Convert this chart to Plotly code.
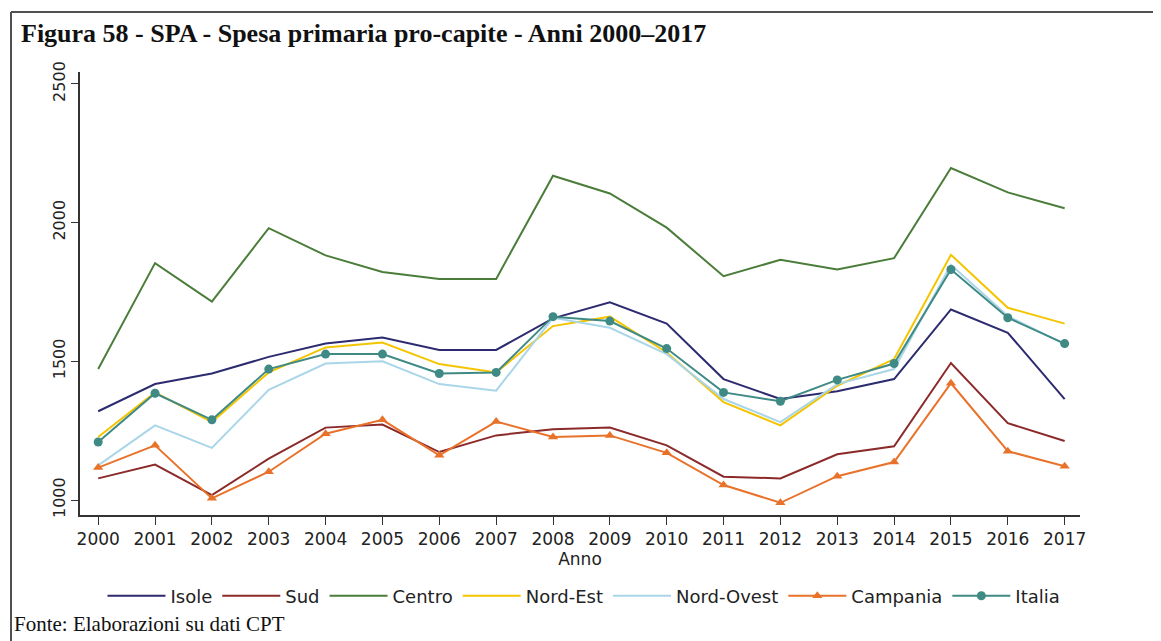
import plotly.graph_objects as go

# dati (spesa primaria pro-capite, euro)
anni = list(range(2000, 2018))

isole = [1320, 1418, 1456, 1516, 1564, 1586, 1541, 1541, 1655, 1713,
         1636, 1436, 1364, 1392, 1436, 1687, 1603, 1364]
sud = [1078, 1128, 1018, 1149, 1261, 1272, 1173, 1233, 1255, 1261,
       1197, 1084, 1078, 1165, 1194, 1494, 1277, 1213]
centro = [1472, 1854, 1715, 1980, 1882, 1822, 1797, 1797, 2169, 2105,
          1982, 1807, 1866, 1831, 1872, 2197, 2109, 2052]
nord_est = [1227, 1388, 1281, 1460, 1550, 1568, 1490, 1460, 1627, 1661,
            1532, 1353, 1269, 1412, 1508, 1884, 1693, 1636]
nord_ovest = [1125, 1269, 1188, 1397, 1492, 1500, 1418, 1394, 1657, 1621,
              1526, 1364, 1281, 1418, 1472, 1848, 1663, 1562]
campania = [1117, 1197, 1006, 1102, 1239, 1289, 1161, 1283, 1227, 1233,
            1170, 1054, 990, 1086, 1137, 1421, 1176, 1122]
italia = [1209, 1385, 1289, 1472, 1526, 1526, 1456, 1460, 1661, 1645,
          1546, 1388, 1356, 1433, 1492, 1831, 1657, 1564]

serie = [
    ("Isole", isole, "#2d2b70", None),
    ("Sud", sud, "#8c2a2a", None),
    ("Centro", centro, "#4b7d3a", None),
    ("Nord-Est", nord_est, "#f5c400", None),
    ("Nord-Ovest", nord_ovest, "#a9d6e8", None),
    ("Campania", campania, "#e8722a", "triangle-up"),
    ("Italia", italia, "#3f8a84", "circle"),
]

fig = go.Figure()
for nome, valori, colore, simbolo in serie:
    if simbolo:
        fig.add_trace(go.Scatter(x=anni, y=valori, name=nome, mode="lines+markers",
                                 line=dict(color=colore, width=2),
                                 marker=dict(symbol=simbolo, size=9, color=colore)))
    else:
        fig.add_trace(go.Scatter(x=anni, y=valori, name=nome, mode="lines",
                                 line=dict(color=colore, width=2)))

# cornice esterna (alto e sinistra)
fig.add_shape(type="line", xref="paper", yref="paper", x0=-0.069, x1=1.09, y0=1.1354, y1=1.1354,
              line=dict(color="#505050", width=2))
fig.add_shape(type="line", xref="paper", yref="paper", x0=-0.069, x1=-0.069, y0=1.1354, y1=-0.30,
              line=dict(color="#505050", width=2))

fig.add_annotation(text="<b>Figura 58 - SPA - Spesa primaria pro-capite - Anni 2000–2017</b>",
                   xref="paper", yref="paper", x=-0.061, y=1.087, xanchor="left", yanchor="middle",
                   showarrow=False, font=dict(family="Liberation Serif", size=26, color="#111"))
fig.add_annotation(text="Fonte: Elaborazioni su dati CPT",
                   xref="paper", yref="paper", x=-0.068, y=-0.246, xanchor="left", yanchor="middle",
                   showarrow=False, font=dict(family="Liberation Serif", size=21, color="#111"))

# la pagina aggiunge 8px di margine al body: margini ridotti di 8
fig.update_layout(
    width=1161, height=641,
    margin=dict(l=72, r=89, t=64, b=134, autoexpand=False),
    paper_bgcolor="white", plot_bgcolor="white",
    font=dict(family="DejaVu Sans", size=16, color="#222"),
    showlegend=True,
    legend=dict(orientation="h", x=0.504, xanchor="center", y=-0.183, yanchor="middle",
                itemwidth=58, font=dict(size=18), bgcolor="rgba(0,0,0,0)",
                traceorder="normal", itemclick=False),
)
fig.update_xaxes(range=[1999.68, 2017.27], tickvals=anni, ticks="outside", ticklen=8,
                 tickcolor="#333", showline=True, linecolor="#333", linewidth=1.5,
                 showgrid=False, zeroline=False, automargin=False,
                 title=dict(text="Anno", standoff=2, font=dict(size=17)),
                 tickfont=dict(size=17))
fig.update_yaxes(range=[946, 2543], tickvals=[1000, 1500, 2000, 2500], tickangle=-90,
                 ticks="outside", ticklen=7, tickcolor="#333", showline=True, linecolor="#333",
                 linewidth=1.5, showgrid=False, zeroline=False, automargin=False,
                 tickfont=dict(size=16))

fig.write_html("out.html")
